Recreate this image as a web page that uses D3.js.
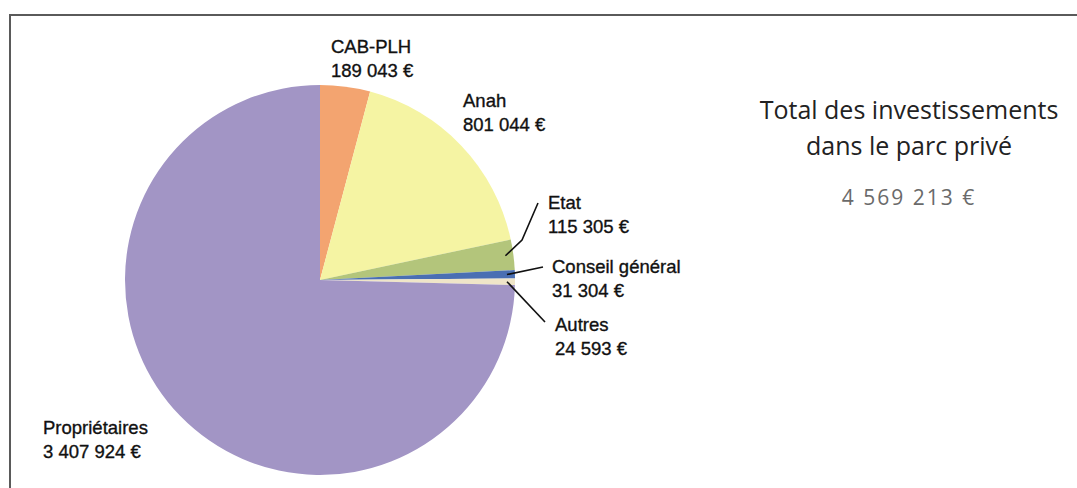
<!DOCTYPE html>
<html>
<head>
  <meta charset="UTF-8">
  <style>
    body { margin: 0; background: #fff; }
    svg { display: block; }
  </style>
</head>
<body>
<svg></svg>
<script src="https://d3js.org/d3.v7.min.js"></script>
<script>

// data
let categories = ["CAB-PLH", "Anah", "Etat", "Conseil général", "Autres", "Propriétaires"];
let amounts = [189043, 801044, 115305, 31304, 24593, 3407924];
let valueLabels = ["189 043 €", "801 044 €", "115 305 €", "31 304 €", "24 593 €", "3 407 924 €"];
let colors = ["#f3a470", "#f5f4a3", "#b3c57b", "#4a6fb3", "#efe5c8", "#a295c5"];
let totalLines = ["Total des investissements", "dans le parc privé"];
let totalLabel = "4 569 213 €";

let width = 1077, height = 488;

let svg = d3.select("svg")
    .attr("width", width)
    .attr("height", height);

// frame (top and left edge of the scanned box)
svg.append("path")
    .attr("d", "M10," + height + "V15H" + width)
    .attr("fill", "none")
    .attr("stroke", "#5a5a5a")
    .attr("stroke-width", 2);

let cx = 320, cy = 280, r = 195;

let rows = categories.map((c, i) => ({ name: c, value: amounts[i], label: valueLabels[i], color: colors[i] }));

let pie = d3.pie().sort(null).value(d => d.value);
let arc = d3.arc().innerRadius(0).outerRadius(r);
let arcs = pie(rows);

let g = svg.append("g").attr("transform", "translate(" + cx + "," + cy + ")");

g.selectAll("path")
    .data(arcs)
    .enter()
    .append("path")
    .attr("d", arc)
    .attr("fill", d => d.data.color);

// label placement (layout only)
let labelPos = [
    { x: 331, y: 53 },
    { x: 463, y: 107 },
    { x: 548, y: 209 },
    { x: 552, y: 273 },
    { x: 555, y: 331 },
    { x: 43, y: 434 }
];
// leader lines: extra points after the start on the slice edge
let leaders = [
    null,
    null,
    [[522, 240], [538, 203]],
    [[543, 267]],
    [[545, 322]],
    null
];

let labels = svg.append("g");
arcs.forEach((a, i) => {
    let p = labelPos[i];
    let t = labels.append("text")
        .attr("x", p.x)
        .attr("y", p.y)
        .attr("font-family", "Liberation Sans, Arial, sans-serif")
        .attr("font-size", "18.5px")
        .attr("fill", "#111")
        .attr("stroke", "#111")
        .attr("stroke-width", 0.35);
    t.append("tspan").attr("x", p.x).text(a.data.name);
    t.append("tspan").attr("x", p.x).attr("dy", 24).text(a.data.label);

    if (leaders[i]) {
        let mid = (a.startAngle + a.endAngle) / 2;
        let rr = r - 8;
        let start = [cx + rr * Math.sin(mid), cy - rr * Math.cos(mid)];
        let pts = [start].concat(leaders[i]);
        svg.append("path")
            .attr("d", d3.line()(pts))
            .attr("fill", "none")
            .attr("stroke", "#111")
            .attr("stroke-width", 1.6);
    }
});

// total block
let tx = 909;
svg.append("text")
    .attr("x", tx).attr("y", 119)
    .attr("text-anchor", "middle")
    .attr("font-family", "Open Sans, sans-serif")
    .attr("font-size", "25px")
    .attr("fill", "#222")
    .text(totalLines[0]);
svg.append("text")
    .attr("x", tx).attr("y", 155)
    .attr("text-anchor", "middle")
    .attr("font-family", "Open Sans, sans-serif")
    .attr("font-size", "25px")
    .attr("fill", "#222")
    .text(totalLines[1]);
svg.append("text")
    .attr("x", tx).attr("y", 205)
    .attr("text-anchor", "middle")
    .attr("font-family", "Open Sans, sans-serif")
    .attr("font-size", "21px")
    .attr("letter-spacing", "2px")
    .attr("fill", "#6a6a6a")
    .text(totalLabel);

</script>
</body>
</html>
